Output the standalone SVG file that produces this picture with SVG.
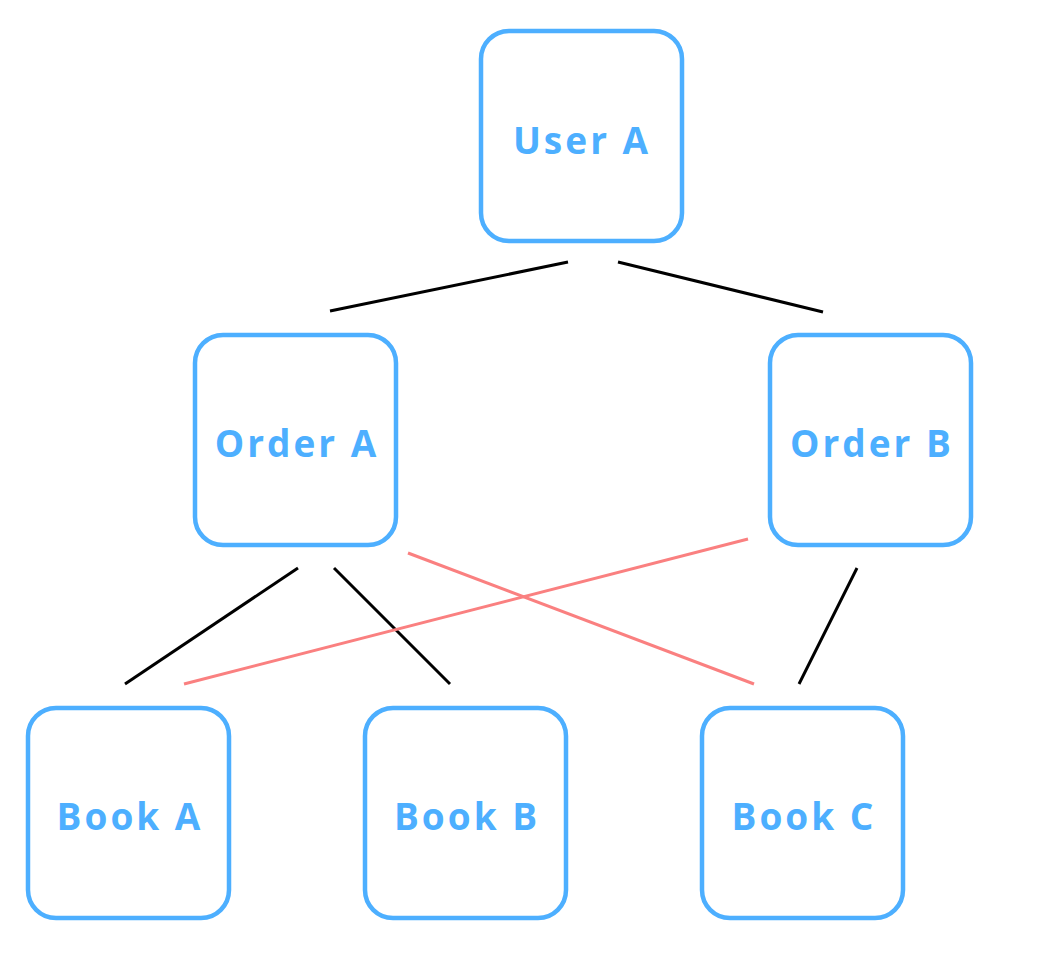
<svg xmlns="http://www.w3.org/2000/svg" width="1056" height="968" viewBox="0 0 1056 968">
<style>
.box{fill:#fff;stroke:#4dafff;stroke-width:4.5}
.lbl{font-family:"Open Sans","Liberation Sans",sans-serif;font-weight:700;font-size:37px;fill:#4dafff;text-anchor:middle;dominant-baseline:central;letter-spacing:3px}
.k{stroke:#000;stroke-width:3;fill:none}
.r{stroke:#fa8080;stroke-width:3;fill:none}
</style>
<rect width="1056" height="968" fill="#fff"/>
<g id="connectors">
<line class="k" x1="330" y1="311" x2="568" y2="262"/>
<line class="k" x1="618" y1="262" x2="823" y2="312"/>
<line class="k" x1="298" y1="568" x2="125" y2="684"/>
<line class="k" x1="334" y1="568" x2="450" y2="684"/>
<line class="k" x1="857" y1="568" x2="799" y2="684"/>
<line class="r" x1="408" y1="553" x2="754" y2="684"/>
<line class="r" x1="748" y1="539" x2="184" y2="684"/>
</g>
<g id="userA"><rect class="box" x="481" y="31" width="201" height="210" rx="28"/><text class="lbl" x="582" y="139">User A</text></g>
<g id="orderA"><rect class="box" x="195" y="335" width="201" height="210" rx="28"/><text class="lbl" x="297" y="442">Order A</text></g>
<g id="orderB"><rect class="box" x="770" y="335" width="201" height="210" rx="28"/><text class="lbl" x="872" y="442">Order B</text></g>
<g id="bookA"><rect class="box" x="28" y="708" width="201" height="210" rx="28"/><text class="lbl" x="130" y="815">Book A</text></g>
<g id="bookB"><rect class="box" x="365" y="708" width="201" height="210" rx="28"/><text class="lbl" x="467" y="815">Book B</text></g>
<g id="bookC"><rect class="box" x="702" y="708" width="201" height="210" rx="28"/><text class="lbl" x="804" y="815">Book C</text></g>
</svg>
